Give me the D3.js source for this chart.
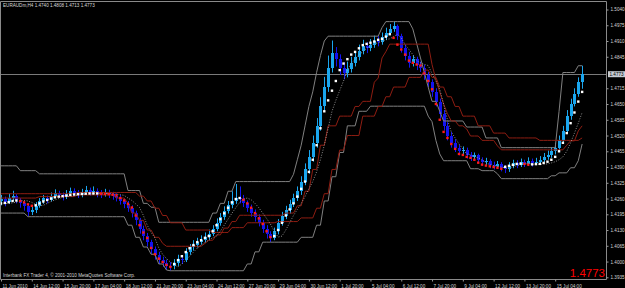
<!DOCTYPE html>
<html>
<head>
<meta charset="utf-8">
<script src="https://cdn.jsdelivr.net/npm/d3@7"></script>
<style>
	body {margin:0;background:#000;}
	svg {display:block;}
	text {font-family:"Liberation Sans", Arial, sans-serif;}
</style>
</head>
<body>
<script>
// EURAUDm H4, prices written in pips above 1.0000
var opens = [4250,4258,4245,4262,4270,4255,4240,4228,4205,4212,4230,
	4248,4262,4255,4270,4282,4275,4268,4280,4290,4284,4276,4288,4295,4286,4292,
	4280,4278,4284,4278,4270,4262,4250,4238,4222,4200,4170,4135,4105,4080,4050,4025,4008,3995,3982,
	3980,3995,4012,4005,4040,4058,4070,4082,
	4090,4102,4115,4135,4160,4185,4210,4232,4250,4262,
	4258,4240,4222,4200,4182,4160,4135,4112,
	4098,4125,4160,4188,4212,4238,4262,
	4290,4330,4380,4430,4490,4560,4640,4720,4800,4860,4835,4800,4780,
	4795,4820,4845,4870,4890,4880,4895,4910,4905,4925,4945,4960,
	4970,4930,4880,4850,4820,4835,4810,4800,
	4770,4740,4700,4660,4610,4560,4520,4490,
	4470,4455,4460,4440,4430,4438,4420,4410,4415,4400,4395,4402,4388,
	4380,4395,4405,4398,4410,4402,4415,4405,4412,
	4420,4430,4440,4455,4470,4500,4540,4600,4650,4690,4740];
var highs = [4275,4268,4280,4292,4278,4262,4250,4235,4230,4245,4262,
	4275,4272,4285,4298,4292,4285,4295,4305,4302,4295,4300,4312,4305,4310,4302,
	4295,4300,4296,4288,4282,4275,4262,4250,4232,4210,4180,4148,4118,4090,4062,4040,4020,4008,3998,
	4010,4028,4025,4055,4072,4088,4098,4108,
	4120,4132,4150,4178,4200,4228,4250,4290,4320,4310,
	4275,4252,4235,4215,4195,4172,4150,4125,
	4140,4175,4205,4230,4255,4280,4310,
	4352,4405,4460,4520,4592,4678,4762,4850,4912,4885,4855,4822,4825,
	4845,4868,4895,4915,4905,4918,4932,4930,4945,4965,4980,4990,
	4978,4940,4895,4865,4850,4845,4825,4812,
	4782,4752,4715,4672,4625,4575,4535,4505,
	4482,4475,4470,4452,4450,4445,4430,4428,4422,4412,4415,4410,4398,
	4410,4420,4418,4425,4420,4430,4425,4428,4435,
	4448,4458,4472,4490,4520,4560,4625,4672,4715,4760,4808];
var lows = [4232,4228,4238,4250,4240,4222,4210,4188,4192,4200,4222,
	4238,4240,4248,4262,4262,4252,4258,4272,4270,4262,4265,4280,4272,4275,4265,
	4262,4268,4262,4255,4248,4235,4220,4205,4182,4150,4115,4088,4062,4032,4008,3990,3978,3965,3962,
	3968,3982,3990,3998,4028,4045,4058,4070,
	4078,4090,4105,4125,4148,4172,4198,4220,4238,4240,
	4225,4205,4185,4165,4145,4118,4095,4080,
	4088,4112,4148,4175,4198,4225,4250,
	4275,4315,4362,4412,4470,4540,4618,4700,4780,4805,4770,4752,4760,
	4780,4805,4830,4855,4860,4868,4882,4888,4895,4915,4935,4948,
	4915,4862,4830,4800,4805,4790,4782,4750,
	4720,4680,4640,4590,4540,4500,4470,4452,
	4438,4440,4425,4415,4418,4405,4395,4398,4385,4380,4385,4372,4365,
	4370,4385,4385,4390,4390,4395,4392,4398,4402,
	4410,4420,4428,4442,4460,4490,4530,4585,4640,4680,4713];
var closes = [4258,4245,4262,4270,4255,4240,4228,4205,4212,4230,4248,
	4262,4255,4270,4282,4275,4268,4280,4290,4284,4276,4288,4295,4286,4292,4280,
	4278,4284,4278,4270,4262,4250,4238,4222,4200,4170,4135,4105,4080,4050,4025,4008,3995,3982,3980,
	3995,4012,4005,4040,4058,4070,4082,4090,
	4102,4115,4135,4160,4185,4210,4232,4250,4262,4258,
	4240,4222,4200,4182,4160,4135,4112,4098,
	4125,4160,4188,4212,4238,4262,4290,
	4330,4380,4430,4490,4560,4640,4720,4800,4860,4835,4800,4780,4795,
	4820,4845,4870,4890,4880,4895,4910,4905,4925,4945,4960,4970,
	4930,4880,4850,4820,4835,4810,4800,4770,
	4740,4700,4660,4610,4560,4520,4490,4470,
	4455,4460,4440,4430,4438,4420,4410,4415,4400,4395,4402,4388,4380,
	4395,4405,4398,4410,4402,4415,4405,4412,4420,
	4430,4440,4455,4470,4500,4540,4600,4650,4690,4740,4773];
// trend dots
var signal = [4240,4242,4245,4250,4252,4250,4244,4236,4230,4232,4240,
	4248,4254,4260,4265,4268,4270,4272,4275,4277,4278,4279,4280,4281,4281,4281,
	4280,4279,4278,4276,4273,4262,4252,4238,4223,4190,4150,4120,4097,4056,4030,4012,3998,3986,3978,
	3990,4006,4022,4039,4055,4068,4080,4088,
	4098,4105,4125,4150,4175,4199,4222,4244,4258,4262,
	4255,4240,4222,4200,4178,4155,4125,4101,
	4105,4130,4160,4190,4215,4240,4268,
	4300,4330,4370,4420,4480,4550,4620,4665,4705,4745,4790,4817,4835,
	4854,4865,4880,4893,4898,4903,4908,4915,4919,4928,4938,4923,
	4895,4875,4854,4829,4820,4813,4809,4776,
	4745,4711,4650,4585,4535,4510,4485,4465,
	4444,4440,4432,4428,4420,4408,4400,4396,4393,4390,4387,4383,4391,
	4395,4399,4403,4404,4403,4400,4401,4402,4403,
	4407,4412,4420,4432,4455,4490,4530,4571,4615,4660,4700];
// slow dotted average
var average = [4238,4239,4240,4242,4245,4250,4252,4250,4244,4236,4230,
	4232,4240,4248,4254,4260,4265,4268,4270,4272,4275,4277,4278,4279,4280,4281,
	4281,4281,4280,4279,4278,4276,4273,4262,4252,4238,4223,4190,4150,4120,4097,4056,4030,4012,3998,
	3986,3978,3990,4006,4022,4039,4055,4068,
	4080,4088,4098,4105,4125,4150,4175,4199,4222,4244,
	4258,4262,4255,4240,4222,4200,4178,4155,
	4125,4101,4105,4130,4160,4190,4215,
	4240,4268,4300,4330,4370,4420,4480,4550,4620,4665,4705,4745,4790,
	4817,4835,4854,4865,4880,4893,4898,4903,4908,4915,4919,4928,
	4938,4923,4895,4875,4854,4829,4820,4813,
	4809,4776,4745,4711,4650,4585,4535,4510,
	4485,4465,4444,4440,4432,4428,4420,4408,4400,4396,4393,4390,4387,
	4383,4391,4395,4399,4403,4404,4403,4400,4401,
	4402,4403,4407,4412,4420,4432,4455,4490,4530,4571,4615];
// channel lines, [first bar, level] runs
var bandHi = [[0,4395],[5,4375],[10,4362],[33,4293],[37,4240],[39,4224],[41,4162],[55,4200],[57,4240],[59,4290],[61,4330],[76,4360],[77,4420],[78,4480],[79,4560],[80,4640],[81,4700],[82,4780],[83,4850],[84,4910],[85,4930],[99,4965],[100,4990],[107,4960],[108,4900],[109,4840],[110,4780],[111,4720],[112,4661],[114,4620],[115,4580],[121,4555],[126,4510],[130,4470],[145,4620],[146,4780],[150,4808]];
var bandLo = [[0,4200],[7,4185],[33,4150],[35,4100],[37,4060],[39,4030],[41,3990],[43,3965],[44,3962],[64,3990],[66,4040],[68,4080],[78,4100],[82,4150],[84,4250],[86,4350],[88,4450],[90,4560],[93,4620],[96,4641],[111,4600],[112,4577],[113,4500],[114,4444],[115,4416],[122,4383],[125,4375],[129,4362],[130,4342],[143,4354],[145,4366],[148,4387],[150,4416],[151,4485]];
var redFast = [[0,4262],[10,4268],[20,4275],[30,4262],[33,4240],[34,4200],[36,4170],[38,4130],[40,4100],[42,4075],[43,4063],[53,4075],[54,4088],[56,4110],[58,4138],[60,4165],[62,4191],[74,4200],[77,4230],[79,4290],[81,4380],[83,4480],[85,4560],[88,4600],[92,4640],[94,4661],[97,4740],[98,4757],[99,4840],[100,4866],[101,4897],[112,4813],[113,4750],[114,4700],[115,4650],[116,4610],[117,4580],[119,4560],[121,4547],[122,4518],[125,4500],[129,4477],[130,4461],[147,4480],[148,4498],[150,4539],[151,4560]];
var redSlow = [[0,4280],[20,4285],[36,4270],[38,4250],[40,4220],[42,4190],[44,4160],[48,4130],[55,4120],[60,4140],[64,4160],[72,4165],[78,4180],[82,4220],[84,4280],[86,4380],[88,4460],[90,4520],[94,4600],[98,4640],[100,4680],[102,4720],[106,4760],[110,4790],[112,4760],[114,4720],[116,4680],[118,4640],[120,4600],[124,4560],[128,4530],[132,4510],[140,4500],[151,4510]];

var timeLabels = ["11 Jun 2010","14 Jun 12:00","15 Jun 20:00","17 Jun 04:00","18 Jun 12:00","21 Jun 20:00","23 Jun 04:00","24 Jun 12:00","27 Jun 20:00","29 Jun 04:00","30 Jun 12:00","1 Jul 20:00","5 Jul 04:00","6 Jul 12:00","7 Jul 20:00","9 Jul 04:00","12 Jul 12:00","13 Jul 20:00","15 Jul 04:00"];
var priceTicks = [1.5040,1.4975,1.4910,1.4845,1.4715,1.4650,1.4585,1.4520,1.4455,1.4390,1.4325,1.4260,1.4195,1.4130,1.4065,1.4000,1.3935];
var lastPrice = 1.4773;

var N = closes.length;
function pr(p) { return 1 + p / 10000; }
function expand(runs) {
	var out = [];
	runs.forEach(function(r, k) {
		var end = k + 1 < runs.length ? runs[k + 1][0] : N;
		for (var i = r[0]; i < end; i++) out[i] = r[1];
	});
	return out;
}

var W = 625, H = 288, plotR = 606, plotT = 1.5, plotB = 279.5;
var svg = d3.select("body").append("svg").attr("width", W).attr("height", H);
svg.append("rect").attr("width", W).attr("height", H).attr("fill", "#000");

var x = d3.scaleLinear().domain([0, 157.2]).range([1, plotR]);
var y = d3.scaleLinear().domain([1.3935, 1.5040]).range([277.3, 9.5]);

svg.append("clipPath").attr("id", "plot").append("rect")
	.attr("x", 0).attr("y", plotT).attr("width", plotR).attr("height", plotB - plotT);
var g = svg.append("g").attr("clip-path", "url(#plot)");

// current price line
g.append("line").attr("x1", 0).attr("x2", plotR)
	.attr("y1", Math.round(y(lastPrice)) + 0.5).attr("y2", Math.round(y(lastPrice)) + 0.5)
	.attr("stroke", "#7a7a7a").attr("stroke-width", 1);

// candles
var idx = d3.range(N);
var bull = "#1aa6ee", bear = "#1414f0";
function col(i) { return closes[i] >= opens[i] ? bull : bear; }
g.selectAll("line.wick").data(idx).enter().append("line")
	.attr("class", "wick")
	.attr("x1", function(i) { return Math.round(x(i)) + 0.5; })
	.attr("x2", function(i) { return Math.round(x(i)) + 0.5; })
	.attr("y1", function(i) { return y(pr(highs[i])); })
	.attr("y2", function(i) { return y(pr(lows[i])); })
	.attr("stroke", col).attr("stroke-width", 1);
g.selectAll("rect.body").data(idx).enter().append("rect")
	.attr("class", "body")
	.attr("x", function(i) { return Math.round(x(i)) - 1; })
	.attr("width", 3)
	.attr("y", function(i) { return y(pr(Math.max(opens[i], closes[i]))); })
	.attr("height", function(i) { return Math.max(1, y(pr(Math.min(opens[i], closes[i]))) - y(pr(Math.max(opens[i], closes[i])))); })
	.attr("fill", col)
	.attr("shape-rendering", "crispEdges");

// channel lines
var line = d3.line().x(function(d, i) { return x(i); }).y(function(d) { return y(pr(d)); });
[[bandHi, "#808080"], [bandLo, "#808080"], [redFast, "#8e1d12"], [redSlow, "#8e1d12"]].forEach(function(s) {
	g.append("path").datum(expand(s[0]))
		.attr("d", line).attr("fill", "none")
		.attr("stroke", s[1]).attr("stroke-width", 1);
});
g.append("path").datum(average)
	.attr("d", line).attr("fill", "none")
	.attr("stroke", "#b0b0b0").attr("stroke-width", 0.8).attr("stroke-dasharray", "1,1.6");

// dots
g.selectAll("rect.dot").data(idx).enter().append("rect")
	.attr("class", "dot")
	.attr("x", function(i) { return x(i) - 1.2; })
	.attr("y", function(i) { return y(pr(signal[i])) - 1.2; })
	.attr("width", 2.4).attr("height", 2.4)
	.attr("fill", function(i) { return i > 0 && signal[i] < signal[i - 1] ? "#ff1a1a" : "#ffffff"; });

// frame
svg.append("path")
	.attr("d", "M0.5," + plotB + "V" + plotT + "H" + (plotR + 0.5) + "V" + plotB + "H0.5")
	.attr("fill", "none").attr("stroke", "#8a8a8a").attr("stroke-width", 1);

// price axis
var ya = svg.append("g").attr("transform", "translate(" + (plotR + 0.5) + ",0)")
	.call(d3.axisRight(y).tickValues(priceTicks).tickSize(2).tickPadding(2).tickFormat(d3.format(".4f")));
ya.select(".domain").remove();
ya.selectAll("line").attr("stroke", "#9a9a9a");
ya.selectAll("text").attr("fill", "#d4d4d4").attr("font-size", 4.6).attr("font-family", "Liberation Sans, Arial, sans-serif");

// current price label
var ly = y(lastPrice);
svg.append("rect").attr("x", plotR + 2).attr("y", ly - 3).attr("width", 17).attr("height", 6).attr("fill", "#c6ccd4");
svg.append("text").attr("x", plotR + 3.5).attr("y", ly + 1.7).attr("font-size", 4.6)
	.attr("fill", "#000").text(d3.format(".4f")(lastPrice));

// time axis
var tickBars = timeLabels.map(function(d, k) { return k * 8; });
var xa = svg.append("g").attr("transform", "translate(0," + plotB + ")")
	.call(d3.axisBottom(x).tickValues(tickBars).tickSize(2).tickPadding(3).tickFormat(function(d, k) { return timeLabels[k]; }));
xa.select(".domain").remove();
xa.selectAll("line").attr("stroke", "#9a9a9a");
xa.selectAll("text").attr("fill", "#d4d4d4").attr("font-size", 4.6)
	.attr("text-anchor", "start").attr("dx", "1").attr("font-family", "Liberation Sans, Arial, sans-serif");

// header, copyright, big price
svg.append("text").attr("x", 3).attr("y", 7).attr("font-size", 4.6).attr("fill", "#d8d8d8")
	.text("EURAUDm,H4  1.4740 1.4808 1.4713 1.4773");
svg.append("text").attr("x", 3).attr("y", 276.5).attr("font-size", 4.6).attr("fill", "#d8d8d8")
	.text("Interbank FX Trader 4, \u00a9 2001-2010 MetaQuotes Software Corp.");
svg.append("text").attr("x", 605).attr("y", 277).attr("font-size", 11.5).attr("fill", "#ff0000")
	.attr("text-anchor", "end").text(d3.format(".4f")(lastPrice));
</script>
</body>
</html>
